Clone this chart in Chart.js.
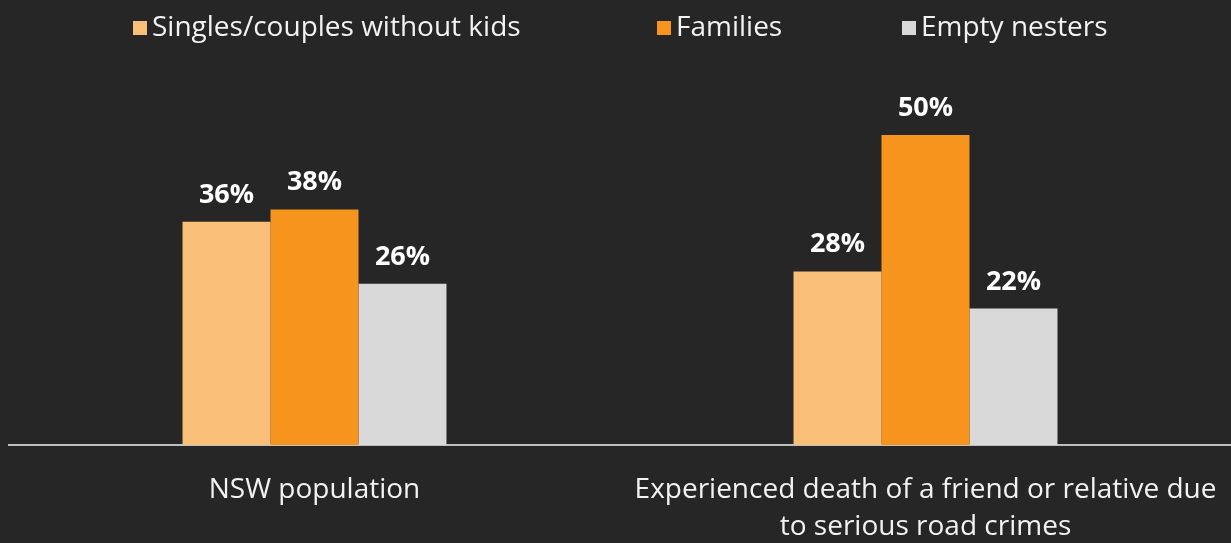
<!DOCTYPE html>
<html>
<head>
<meta charset="utf-8">
<script src="https://cdn.jsdelivr.net/npm/chart.js@4"></script>
<style>
  html, body { margin: 0; padding: 0; background: #262626; }
  #wrap { width: 1231px; height: 543px; }
</style>
</head>
<body>
<div id="wrap"><canvas id="chart" width="1231" height="543"></canvas></div>
<script>
// categories (multi-line labels as arrays)
const categories = [
  ['NSW population'],
  ['Experienced death of a friend or relative due', 'to serious road crimes']
];
const seriesNames = ['Singles/couples without kids', 'Families', 'Empty nesters'];
const singlesValues = [36, 28];
const familiesValues = [38, 50];
const emptyNestersValues = [26, 22];

const colors = ['#F9BE78', '#F7941E', '#D9D9D9'];
const fontFamily = '"Open Sans", Lato, sans-serif';

// value labels above each bar
const valueLabels = {
  id: 'valueLabels',
  afterDatasetsDraw(chart) {
    const ctx = chart.ctx;
    ctx.save();
    ctx.font = 'bold 27px ' + fontFamily;
    ctx.fillStyle = '#ffffff';
    ctx.textAlign = 'center';
    ctx.textBaseline = 'alphabetic';
    chart.data.datasets.forEach((ds, i) => {
      chart.getDatasetMeta(i).data.forEach((bar, j) => {
        ctx.fillText(ds.data[j] + '%', bar.x, bar.y - 19);
      });
    });
    ctx.restore();
  }
};

// legend drawn across the top, boxes at fixed slots
const topLegend = {
  id: 'topLegend',
  afterDraw(chart) {
    const ctx = chart.ctx;
    const slots = [133, 657, 902];
    ctx.save();
    ctx.font = '28px ' + fontFamily;
    ctx.textBaseline = 'middle';
    ctx.textAlign = 'left';
    chart.data.datasets.forEach((ds, i) => {
      const x = slots[i];
      ctx.fillStyle = ds.backgroundColor;
      ctx.fillRect(x, 21, 14, 14);
      ctx.fillStyle = '#f2f2f2';
      ctx.fillText(ds.label, x + 19, 28);
    });
    ctx.restore();
  }
};

new Chart(document.getElementById('chart'), {
  type: 'bar',
  data: {
    labels: categories,
    datasets: [
      { label: seriesNames[0], data: singlesValues, backgroundColor: colors[0] },
      { label: seriesNames[1], data: familiesValues, backgroundColor: colors[1] },
      { label: seriesNames[2], data: emptyNestersValues, backgroundColor: colors[2] }
    ]
  },
  options: {
    responsive: false,
    animation: false,
    layout: { padding: { top: 73, left: 9, right: -4, bottom: 0 } },
    datasets: {
      bar: { barPercentage: 1, categoryPercentage: 0.432, borderWidth: 0 }
    },
    plugins: {
      legend: { display: false },
      tooltip: { enabled: false }
    },
    scales: {
      y: { display: false, min: 0, max: 60 },
      x: {
        grid: { display: false },
        border: { display: true, color: '#bfbfbf', width: 2 },
        ticks: {
          color: '#f2f2f2',
          padding: 19,
          maxRotation: 0,
          autoSkip: false,
          font: { family: fontFamily, size: 28, lineHeight: '37px' }
        },
        afterFit(scale) {
          scale.height = 98;
          scale.paddingLeft = 0;
          scale.paddingRight = 0;
        }
      }
    }
  },
  plugins: [valueLabels, topLegend]
});
</script>
</body>
</html>
